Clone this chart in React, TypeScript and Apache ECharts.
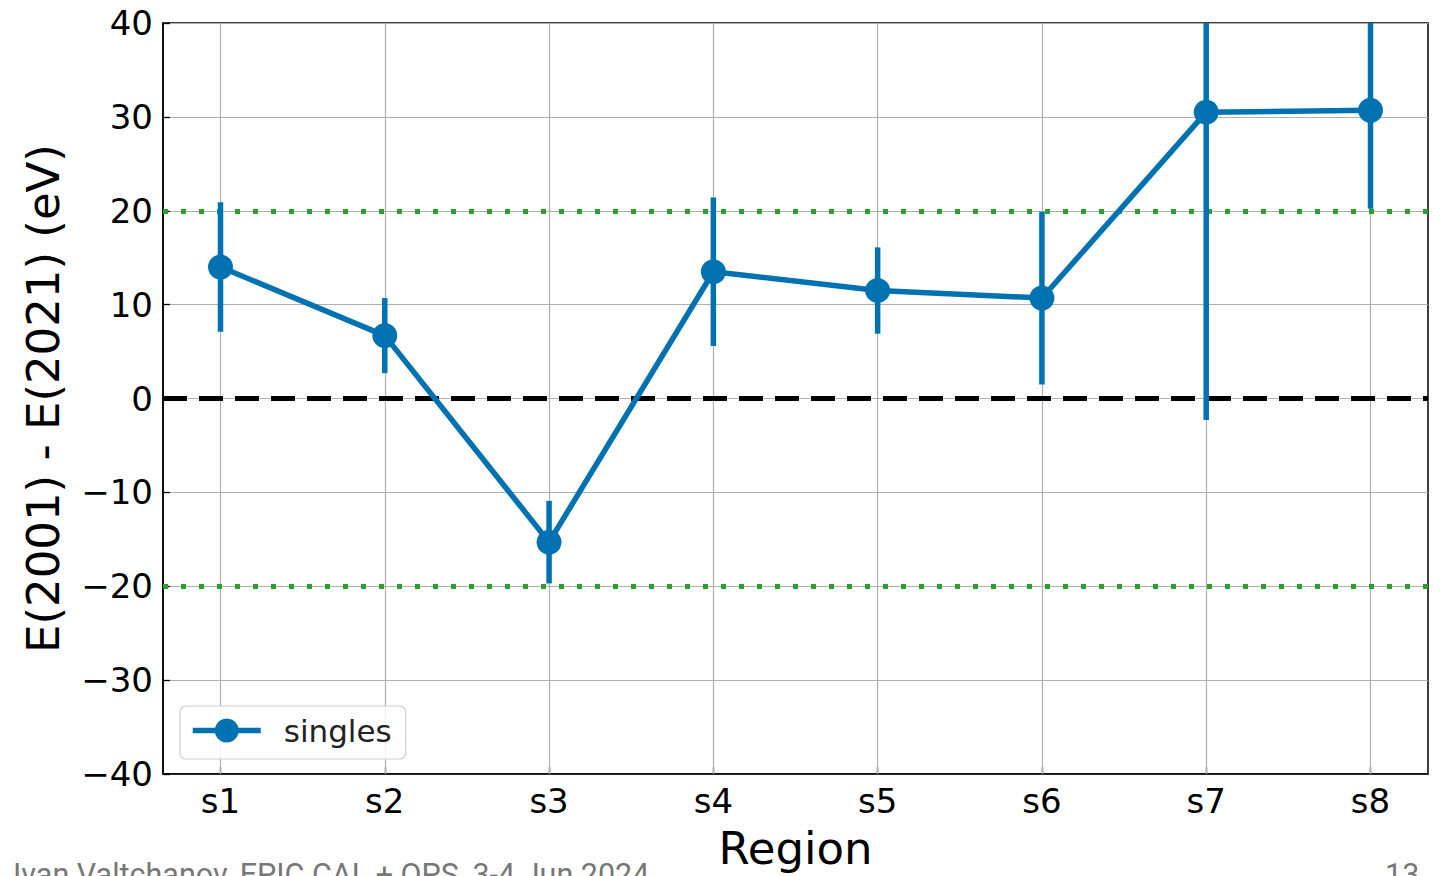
import React, { useEffect, useRef } from "react";
import * as echarts from "echarts";

const regions = ["s1", "s2", "s3", "s4", "s5", "s6", "s7", "s8"];
const diffs = [14.0, 6.7, -15.3, 13.5, 11.5, 10.7, 30.5, 30.7];
const errors = [6.9, 4.0, 4.4, 7.9, 4.6, 9.2, 32.8, 10.5];
const regionIdx = [0, 1, 2, 3, 4, 5, 6, 7];
const zeroLine = 0;
const limitLines = [-20, 20];
const seriesName = "singles";
const yAxisTitle = "E(2001) - E(2021) (eV)";
const xAxisTitle = "Region";
const footerText = "Ivan Valtchanov, EPIC CAL + OPS, 3-4 Jun 2024";
const pageNumber = "13";

const BLUE = "#0072B2";
const FONT = "DejaVu Sans";

export default function App() {
  const ref = useRef<HTMLDivElement>(null);
  useEffect(() => {
    if (!ref.current) return;
    const chart = echarts.init(ref.current, null, { renderer: "svg" });
    const fmt = (v: number) => (v < 0 ? "\u2212" + Math.abs(v) : String(v));
    chart.setOption({
      animation: false,
      backgroundColor: "#fff",
      grid: {
        left: 163,
        top: 23,
        width: 1265,
        height: 754,
        show: true,
        borderColor: "#000",
        borderWidth: 1.5,
        backgroundColor: "transparent",
      },
      legend: {
        data: [seriesName],
        left: 180,
        top: 706,
        orient: "vertical",
        padding: [9, 14, 13, 10],
        itemWidth: 68,
        itemHeight: 30,
        borderColor: "#d0d0d0",
        borderWidth: 1.2,
        borderRadius: 6,
        backgroundColor: "rgba(255,255,255,0.85)",
        lineStyle: { width: 5.5 },
        textStyle: {
          fontFamily: FONT,
          fontSize: 31,
          color: "#222",
          padding: [0, 0, 0, 18],
        },
      },
      xAxis: {
        type: "value",
        min: -0.35,
        max: 7.35,
        name: xAxisTitle,
        nameLocation: "middle",
        nameGap: 52,
        nameTextStyle: { fontFamily: FONT, fontSize: 45, color: "#000", verticalAlign: "top" },
        axisLine: { show: true, onZero: false, lineStyle: { color: "#000", width: 1.5 } },
        axisTick: {
          show: true,
          inside: true,
          length: 7,
          customValues: regionIdx,
          lineStyle: { color: "#000", width: 1.3 },
        },
        axisLabel: {
          customValues: regionIdx,
          formatter: (v: number) => regions[Math.round(v)] ?? "",
          fontFamily: FONT,
          fontSize: 34,
          color: "#000",
          margin: 10,
        },
        splitLine: { show: false },
      },
      yAxis: {
        type: "value",
        min: -40,
        max: 40,
        interval: 10,
        name: yAxisTitle,
        nameLocation: "middle",
        nameGap: 97,
        nameRotate: 90,
        nameTextStyle: { fontFamily: FONT, fontSize: 45, color: "#000" },
        axisLine: { show: true, onZero: false, lineStyle: { color: "#000", width: 1.5 } },
        axisTick: { show: true, inside: true, length: 7, lineStyle: { color: "#000", width: 1.3 } },
        axisLabel: {
          formatter: fmt,
          fontFamily: FONT,
          fontSize: 34,
          color: "#000",
          margin: 10,
        },
        splitLine: { show: true, lineStyle: { color: "#b0b0b0", width: 1.2 } },
      },
      series: [
        {
          name: "grid-x",
          type: "line",
          data: [],
          silent: true,
          z: 1,
          markLine: {
            silent: true,
            z: 1,
            symbol: "none",
            label: { show: false },
            lineStyle: { color: "#b0b0b0", width: 1.2, type: "solid" },
            data: regionIdx.map((i) => ({ xAxis: i })),
          },
        },
        {
          name: "refs",
          type: "line",
          data: [],
          silent: true,
          z: 2,
          markLine: {
            silent: true,
            z: 2,
            symbol: "none",
            label: { show: false },
            data: [
              { yAxis: zeroLine, lineStyle: { color: "#000", width: 5, type: [24, 12] } },
              ...limitLines.map((v) => ({
                yAxis: v,
                lineStyle: { color: "#2ca02c", width: 5, type: [5, 13] },
              })),
            ],
          },
        },
        {
          name: "singles-err",
          type: "custom",
          z: 3,
          silent: true,
          data: diffs.map((d, i) => [i, d, errors[i]]),
          renderItem: (params: any, api: any) => {
            const x = api.value(0);
            const y = api.value(1);
            const e = api.value(2);
            const top = api.coord([x, y + e]);
            const bot = api.coord([x, y - e]);
            const cs = params.coordSys;
            const y1 = Math.max(top[1], cs.y);
            const y2 = Math.min(bot[1], cs.y + cs.height);
            return {
              type: "line",
              shape: { x1: top[0], y1, x2: top[0], y2 },
              style: { stroke: BLUE, lineWidth: 5.5 },
            };
          },
        },
        {
          name: seriesName,
          type: "line",
          z: 4,
          data: diffs.map((d, i) => [i, d]),
          symbol: "circle",
          symbolSize: 25,
          lineStyle: { color: BLUE, width: 5.5 },
          itemStyle: { color: BLUE },
        },
      ],
      graphic: [
        {
          type: "text",
          left: 13,
          top: 859,
          style: {
            text: footerText,
            fontFamily: "Roboto",
            fontSize: 30.5,
            fill: "#777",
          },
        },
        {
          type: "text",
          left: 1385,
          top: 859,
          style: {
            text: pageNumber,
            fontFamily: "Roboto",
            fontSize: 30.5,
            fill: "#777",
          },
        },
      ],
    });
    return () => chart.dispose();
  }, []);
  return (
    <div
      ref={ref}
      style={{ position: "fixed", left: 0, top: 0, width: 1440, height: 876 }}
    />
  );
}
